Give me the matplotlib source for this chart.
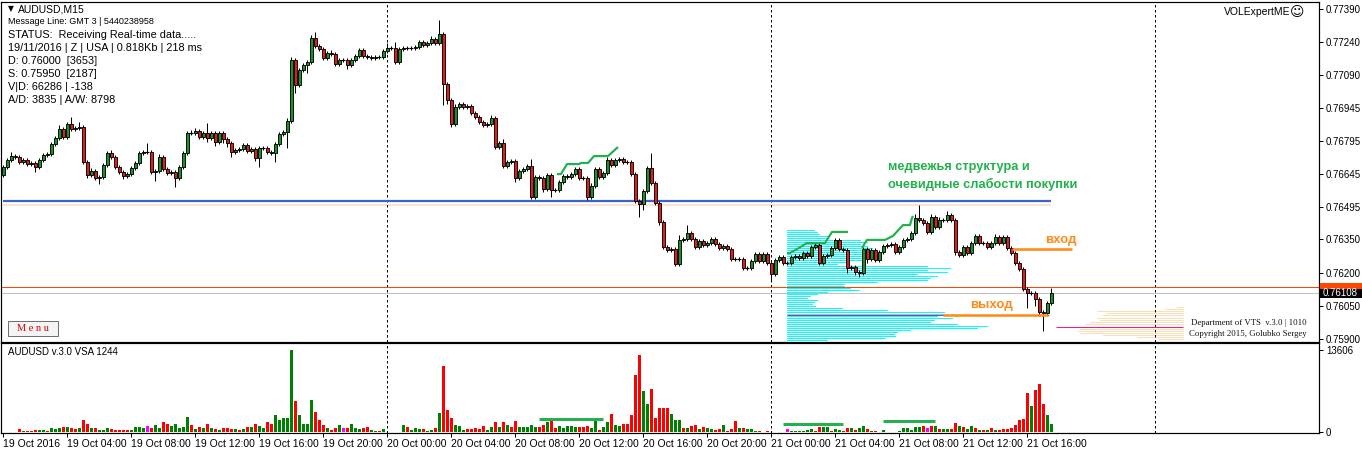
import numpy as np
import matplotlib
matplotlib.use("Agg")
import matplotlib.pyplot as plt
from matplotlib.patches import Rectangle

plt.rcParams['font.family'] = ['Liberation Sans', 'DejaVu Sans']

W, H = 1362, 454

# ---------------- DATA (prices in points: 1 point = 0.00001) ----------------
first_open = 76641
closes_pts = [
    76677, 76708, 76726, 76722, 76699, 76708, 76690, 76695, 76677, 76708,
    76731, 76735, 76781, 76808, 76848, 76812, 76871, 76848, 76853, 76857,
    76699, 76641, 76659, 76627, 76632, 76686, 76740, 76722, 76677, 76654,
    76636, 76645, 76672, 76695, 76740, 76744, 76744, 76654, 76659, 76722,
    76668, 76650, 76654, 76627, 76677, 76740, 76830, 76830, 76839, 76812,
    76830, 76808, 76830, 76790, 76830, 76803, 76785, 76744, 76753, 76758,
    76776, 76749, 76758, 76717, 76763, 76763, 76744, 76740, 76781, 76826,
    76835, 76884, 77159, 77047, 77114, 77137, 77150, 77259, 77223, 77209,
    77168, 77191, 77186, 77141, 77159, 77159, 77137, 77159, 77177, 77204,
    77177, 77173, 77168, 77173, 77173, 77200, 77214, 77214, 77150, 77209,
    77214, 77214, 77214, 77218, 77241, 77227, 77236, 77254, 77236, 77277,
    77051, 76979, 76871, 76947, 76961, 76947, 76952, 76920, 76902, 76880,
    76866, 76871, 76898, 76767, 76785, 76681, 76699, 76704, 76627, 76659,
    76668, 76681, 76541, 76632, 76627, 76578, 76641, 76573, 76573, 76609,
    76636, 76632, 76645, 76668, 76627, 76627, 76541, 76591, 76668, 76632,
    76650, 76708, 76686, 76708, 76713, 76699, 76699, 76645, 76523, 76510,
    76569, 76672, 76605, 76514, 76429, 76316, 76302, 76307, 76239, 76348,
    76352, 76379, 76352, 76316, 76343, 76325, 76334, 76352, 76330, 76311,
    76320, 76307, 76262, 76262, 76262, 76221, 76221, 76253, 76284, 76253,
    76284, 76244, 76194, 76257, 76271, 76244, 76244, 76271, 76275, 76266,
    76289, 76275, 76316, 76325, 76244, 76275, 76280, 76311, 76348, 76307,
    76302, 76221, 76226, 76203, 76199, 76307, 76262, 76302, 76257, 76293,
    76320, 76325, 76330, 76293, 76316, 76348, 76352, 76379, 76447, 76438,
    76424, 76384, 76451, 76406, 76438, 76438, 76460, 76438, 76293, 76280,
    76316, 76289, 76334, 76366, 76334, 76334, 76316, 76334, 76361, 76334,
    76361, 76311, 76289, 76244, 76217, 76127, 76109, 76109, 76082, 76023,
    76018, 76063, 76108,
]
upper_wick = [
    10, 10, 20, 10, 10, 10, 10, 10, 10, 10,
    10, 10, 10, 10, 20, 10, 10, 32, 10, 23,
    10, 10, 15, 10, 10, 10, 10, 15, 10, 10,
    10, 10, 10, 10, 10, 10, 40, 10, 10, 15,
    10, 10, 10, 10, 10, 10, 10, 15, 15, 10,
    10, 45, 10, 10, 10, 10, 10, 10, 10, 10,
    10, 10, 10, 10, 10, 10, 10, 10, 10, 10,
    10, 15, 15, 10, 10, 10, 10, 13, 27, 10,
    10, 10, 15, 10, 10, 10, 10, 10, 10, 10,
    10, 10, 10, 10, 10, 10, 23, 10, 27, 10,
    10, 10, 10, 10, 10, 10, 10, 15, 10, 63,
    10, 10, 10, 15, 10, 10, 10, 10, 10, 10,
    10, 10, 15, 10, 10, 18, 10, 10, 10, 10,
    10, 10, 32, 10, 10, 10, 10, 10, 10, 10,
    10, 10, 10, 10, 10, 10, 10, 15, 10, 10,
    10, 14, 10, 10, 10, 10, 10, 10, 10, 10,
    10, 10, 68, 10, 10, 10, 10, 10, 10, 23,
    10, 36, 10, 10, 10, 10, 10, 10, 10, 10,
    10, 10, 10, 10, 10, 10, 10, 10, 10, 10,
    10, 10, 10, 10, 10, 10, 10, 10, 10, 10,
    10, 10, 10, 10, 10, 10, 10, 10, 10, 10,
    10, 10, 10, 10, 10, 10, 10, 10, 10, 10,
    10, 10, 10, 10, 10, 10, 10, 10, 20, 59,
    10, 10, 15, 10, 15, 10, 20, 10, 10, 10,
    10, 10, 10, 10, 10, 10, 10, 10, 15, 10,
    10, 10, 10, 10, 10, 10, 10, 10, 10, 10,
    10, 10, 23,
]
lower_wick = [
    10, 10, 10, 10, 10, 10, 10, 10, 23, 10,
    10, 10, 10, 10, 10, 10, 10, 10, 10, 10,
    10, 15, 10, 10, 27, 10, 10, 10, 10, 10,
    15, 10, 10, 10, 10, 10, 10, 10, 40, 10,
    10, 10, 10, 40, 10, 10, 10, 10, 10, 10,
    10, 20, 10, 20, 10, 20, 20, 20, 10, 10,
    10, 10, 10, 15, 40, 10, 10, 10, 40, 10,
    10, 72, 10, 36, 10, 10, 36, 10, 10, 10,
    10, 10, 10, 10, 10, 10, 18, 10, 10, 10,
    10, 10, 10, 10, 10, 10, 10, 10, 10, 10,
    10, 10, 10, 10, 10, 10, 10, 10, 10, 10,
    95, 20, 14, 10, 10, 10, 10, 10, 10, 10,
    10, 10, 10, 10, 10, 10, 10, 10, 18, 10,
    10, 10, 10, 10, 10, 14, 10, 32, 10, 10,
    10, 10, 10, 10, 10, 10, 14, 10, 10, 10,
    10, 10, 10, 10, 10, 10, 10, 10, 10, 58,
    27, 10, 10, 10, 14, 10, 10, 10, 10, 10,
    10, 10, 10, 10, 10, 10, 10, 10, 10, 10,
    10, 10, 10, 10, 10, 10, 10, 10, 10, 10,
    10, 10, 27, 10, 10, 10, 10, 10, 10, 10,
    10, 10, 10, 10, 10, 10, 10, 10, 10, 10,
    10, 20, 10, 15, 20, 10, 20, 10, 10, 10,
    10, 10, 10, 10, 10, 10, 10, 10, 10, 10,
    10, 10, 10, 10, 10, 10, 10, 10, 15, 10,
    10, 10, 10, 10, 10, 10, 10, 10, 10, 10,
    10, 10, 10, 10, 10, 10, 70, 10, 30, 20,
    81, 10, 10,
]
volumes = [
    0, 0, 0, 0, 430, 160, 110, 110, 270, 270,
    270, 110, 600, 490, 600, 870, 760, 700, 430, 600,
    2060, 1250, 600, 600, 270, 270, 600, 430, 270, 270,
    270, 270, 270, 760, 760, 600, 980, 700, 1140, 650,
    1630, 1250, 920, 1410, 700, 760, 2550, 1140, 430, 760,
    600, 1250, 600, 430, 270, 600, 600, 430, 430, 270,
    540, 760, 760, 1250, 920, 600, 1630, 1250, 2870, 2060,
    2380, 2380, 13606, 5150, 2870, 1410, 1250, 5310, 3250, 1950,
    1080, 600, 380, 650, 1080, 600, 700, 1250, 600, 430,
    600, 760, 270, 160, 110, 430, 0, 0, 0, 0,
    1080, 760, 270, 600, 430, 430, 110, 270, 600, 3090,
    11000, 3580, 2380, 1080, 920, 270, 430, 430, 600, 430,
    920, 270, 760, 1630, 760, 1630, 1080, 760, 1900, 760,
    760, 760, 1080, 760, 760, 1210, 1600, 1770, 660, 1050,
    720, 1050, 1050, 880, 880, 880, 1050, 720, 1880, 390,
    880, 1600, 3040, 1210, 1050, 1380, 1380, 2870, 9380, 12800,
    6840, 4690, 7180, 2370, 3970, 4030, 3970, 3040, 2040, 2040,
    720, 720, 940, 1210, 550, 830, 660, 550, 390, 500,
    1210, 170, 550, 1880, 720, 720, 550, 500, 220, 220,
    60, 220, 0, 0, 0, 0, 500, 100, 100, 100,
    100, 280, 500, 110, 830, 830, 830, 220, 500, 390,
    220, 720, 720, 390, 720, 1050, 550, 220, 220, 60,
    390, 60, 60, 60, 220, 720, 720, 390, 880, 880,
    1050, 720, 1050, 1050, 550, 550, 550, 550, 1550, 1050,
    880, 550, 1050, 720, 390, 390, 390, 720, 390, 390,
    500, 550, 720, 1210, 2040, 2210, 6460, 4250, 7010, 7890,
    4690, 2870, 1380,
]
vol_colors = ("ggggrgrrrg" "grgggrgrrg" "rrgrgggrrr" "rrggggmrgg" "rrgggggrgr"
              "grgrgrrrgr" "grgrggrrgg" "gggrggggrr" "rgrrgmrggg" "rrggrggggg"
              "grgggrggrg" "rrrgggrrrr" "rggrgrgrrg" "ggggrrgrrg" "ggggrrrggr"
              "ggrggrrrrr" "ggrrrrrggg" "rgrrgrggrr" "grrrgrgggr" "grggggmggg"
              "gggrrggrgg" "rrgrggrgrg" "ggrrgggggg" "rmrgrggrrg" "rggrgrgrgr"
              "rrrrrrrgrr" "rgg")

time_labels = ["19 Oct 2016", "19 Oct 04:00", "19 Oct 08:00", "19 Oct 12:00",
               "19 Oct 16:00", "19 Oct 20:00", "20 Oct 00:00", "20 Oct 04:00",
               "20 Oct 08:00", "20 Oct 12:00", "20 Oct 16:00", "20 Oct 20:00",
               "21 Oct 00:00", "21 Oct 04:00", "21 Oct 08:00", "21 Oct 12:00",
               "21 Oct 16:00"]
label_bars = [0, 16, 32, 48, 64, 80, 96, 112, 128, 144, 160, 176, 192, 208, 224, 240, 256]
day_breaks = [96, 192, 288]
price_ticks = [0.77390, 0.77240, 0.77090, 0.76945, 0.76795, 0.76645,
               0.76495, 0.76350, 0.76200, 0.76050, 0.75900]

# support line & levels
support_level = 0.76525
support_shadow = 0.76505
support_span = (0, 262)
ask_level = 0.76135
bid_level = 0.76108
entry_level = 0.76307
entry_span = (252.25, 267.25)
exit_level = 0.76010
exit_span = (235, 261.25)
poc_level = 0.76010
poc_span = (196, 261.5)
poc2_level = 0.75955
poc2_span = (263.25, 295)

# green indicator step lines (bar index, price points)
step1_x = [138.5, 139.5, 141, 144, 144.5, 146.25, 147.75, 151.25, 153.75]
step1_p = [76645, 76645, 76690, 76690, 76695, 76695, 76726, 76726, 76767]
step2_x = [196, 196.75, 199, 201, 205.5, 207.25, 211.25]
step2_p = [76289, 76289, 76312, 76334, 76334, 76384, 76384]
step3_x = [214.75, 216, 220.5, 222.5, 225, 226.75, 227.25, 227.5]
step3_p = [76312, 76348, 76348, 76366, 76415, 76415, 76447, 76456]

# volume-panel green lines
vline_start = [134, 195, 220]
vline_end = [150, 210, 233]
vline_level = [2200, 1380, 1880]

# cyan volume profile (levels in points, relative volume)
profile_start = 196
profile_levels = [76393, 76384, 76375, 76366, 76357, 76348, 76339, 76330, 76321, 76312,
                  76303, 76294, 76285, 76275, 76267, 76257, 76248, 76239, 76230, 76221,
                  76212, 76203, 76194, 76185, 76176, 76167, 76158, 76149, 76140, 76131,
                  76122, 76113, 76104, 76095, 76086, 76077, 76068, 76059, 76050, 76041,
                  76032, 76023, 76014, 76005, 75996, 75987, 75978, 75969, 75960, 75951,
                  75942, 75933, 75924, 75915, 75906, 75897]
profile_vol = [27, 30, 32, 40, 40, 73, 80, 73, 80, 85,
               80, 77, 77, 77, 77, 77, 60, 50, 140, 163,
               140, 160, 130, 150, 143, 140, 90, 57, 57, 63,
               72, 40, 30, 23, 20, 30, 27, 25, 28, 55,
               100, 157, 157, 150, 165, 147, 143, 170, 200, 190,
               123, 110, 107, 108, 98, 40]
# peach profile anchored on the right
rprofile_end = 295
rprofile_levels = [76045, 76036, 76027, 76018, 76009, 75996, 75987, 75978, 75969,
                   75946, 75937, 75928, 75919, 75910, 75901]
rprofile_vol = [6, 18, 86, 76, 80, 86, 83, 93, 98, 103, 105, 103, 80, 46, 25]

info_lines = ["Message Line: GMT 3 | 5440238958",
              "STATUS:  Receiving Real-time data.....",
              "19/11/2016 | Z | USA | 0.818Kb | 218 ms",
              "D: 0.76000  [3653]",
              "S: 0.75950  [2187]",
              "V|D: 66286 | -138",
              "A/D: 3835 | A/W: 8798"]

n = len(closes_pts)
for name, arr in [("upper", upper_wick), ("lower", lower_wick), ("vol", volumes), ("col", vol_colors)]:
    if len(arr) != n:
        raise ValueError(f"{name} length {len(arr)} != {n}")

# ---------------- derived ----------------
closes = np.array(closes_pts) / 1e5
opens = np.array([first_open] + closes_pts[:-1]) / 1e5
highs = np.maximum(opens, closes) + np.array(upper_wick) / 1e5
lows = np.minimum(opens, closes) - np.array(lower_wick) / 1e5
x = np.arange(n)

def fx(px):
    return px / W

def fy(py):
    return 1 - py / H

PX = 0.72  # one pixel in points

fig = plt.figure(figsize=(W / 100, H / 100), dpi=100)
fig.patch.set_facecolor('white')

ax = fig.add_axes([fx(1), fy(342), (1319 - 1) / W, (342 - 2) / H])
ax2 = fig.add_axes([fx(1), fy(433), (1319 - 1) / W, (433 - 343) / H])

for a in (ax, ax2):
    a.set_facecolor('white')
    for s in a.spines.values():
        s.set_linewidth(PX * 1.2)
        s.set_color('black')
    a.set_xlim(-0.5, 329)

ax.set_ylim(0.758876, 0.774210)
ax2.set_ylim(-166, 14766)

# day separators
for a in (ax, ax2):
    for d in day_breaks:
        a.axvline(d, color='black', lw=PX, ls=(0, (2.5, 2.5)), zorder=2)

# cyan profile (1-px lines)
pl = np.array(profile_levels) / 1e5
ax.hlines(pl, profile_start, profile_start + np.array(profile_vol) / 4.0,
          color='#00FFFF', lw=0.7, zorder=1, antialiased=False)
rl = np.array(rprofile_levels) / 1e5
ax.hlines(rl, rprofile_end - np.array(rprofile_vol) / 4.0, rprofile_end,
          color='#FFDDB5', lw=0.7, zorder=1, antialiased=False)

# support line
ax.hlines(support_shadow, *support_span, color='#F6E5D2', lw=PX * 2, zorder=1)
ax.hlines(support_level, *support_span, color='#3A62D6', lw=PX * 2.2, zorder=2)

# bid/ask lines
ax.axhline(ask_level, color='#FF4500', lw=PX, zorder=2)
ax.axhline(bid_level, color='#C0C0C0', lw=PX, zorder=2)

# POC lines
ax.hlines(poc_level, *poc_span, color='#FF1493', lw=PX, zorder=2)
ax.hlines(poc2_level, *poc2_span, color='#FF1493', lw=PX, zorder=2)

# entry / exit
ax.hlines(entry_level, *entry_span, color='#FF8C1A', lw=PX * 2.6, zorder=4)
ax.hlines(exit_level, *exit_span, color='#FF8C1A', lw=PX * 2.6, zorder=4)

# candles
ax.vlines(x, lows, highs, color='black', lw=PX, zorder=3)
diff = closes - opens
body_mask = np.abs(diff) >= 0.000025
up = body_mask & (diff > 0)
dn = body_mask & (diff < 0)
ax.bar(x[up], diff[up], bottom=opens[up], width=0.75, color='#16932A',
       edgecolor='black', linewidth=PX * 0.9, zorder=3)
ax.bar(x[dn], diff[dn], bottom=opens[dn], width=0.75, color='#E41B1B',
       edgecolor='black', linewidth=PX * 0.9, zorder=3)
doji = ~body_mask
ax.hlines(closes[doji], x[doji] - 0.4, x[doji] + 0.4, color='black', lw=PX * 1.2, zorder=3)

# green step lines
for sx, sp in [(step1_x, step1_p), (step2_x, step2_p), (step3_x, step3_p)]:
    ax.plot(sx, np.array(sp) / 1e5, color='#22B14C', lw=PX * 2.2, zorder=5,
            solid_capstyle='butt')

# price axis
ax.yaxis.tick_right()
ax.set_yticks(price_ticks)
ax.set_yticklabels([f"{p:.5f}" for p in price_ticks])
ax.tick_params(axis='y', direction='out', length=3, width=PX, pad=2, labelsize=7)
ax.set_xticks([])

# volume panel
cmap = {'g': '#008000', 'r': '#FF0000', 'm': '#FF00FF'}
ax2.bar(x, volumes, width=0.75, color=[cmap[c] for c in vol_colors], zorder=3)
for s, e, lv in zip(vline_start, vline_end, vline_level):
    ax2.hlines(lv, s, e, color='#22B14C', lw=PX * 3, zorder=4)
ax2.yaxis.tick_right()
ax2.set_yticks([0, 13606])
ax2.set_yticklabels(["0", "13606"])
ax2.tick_params(axis='y', direction='out', length=3, width=PX, pad=2, labelsize=7)
ax2.set_xticks(label_bars)
ax2.set_xticklabels(time_labels)
ax2.tick_params(axis='x', direction='out', length=3, width=PX, pad=1, labelsize=7.5)
for lab in ax2.get_xticklabels():
    lab.set_horizontalalignment('left')

# ---------------- texts ----------------
fig.text(fx(8), fy(9), "\u25BC", fontsize=5.5, va='center', ha='left', family=['DejaVu Sans'])
fig.text(fx(18), fy(9), "AUDUSD,M15", fontsize=7.5, va='center', ha='left')
fig.text(fx(8), fy(22), info_lines[0], fontsize=6.5, va='center', ha='left')
for k, t in enumerate(info_lines[1:]):
    fig.text(fx(8), fy(35 + 13 * k), t, fontsize=7.8, va='center', ha='left')

fig.text(fx(1290), fy(12), "VOLExpertME", fontsize=7.5, va='center', ha='right')
fig.text(fx(1297), fy(12), "\u263A", fontsize=10, va='center', ha='center',
         family=['DejaVu Sans'])

fig.text(fx(888), fy(167), "медвежья структура и", fontsize=9.2, fontweight='bold',
         color='#22B14C', va='center', ha='left')
fig.text(fx(888), fy(184), "очевидные слабости покупки", fontsize=9.2, fontweight='bold',
         color='#22B14C', va='center', ha='left')
fig.text(fx(1045), fy(240), "вход", fontsize=9.5, fontweight='bold',
         color='#FF8C1A', va='center', ha='left')
fig.text(fx(970), fy(305), "выход", fontsize=9.5, fontweight='bold',
         color='#FF8C1A', va='center', ha='left')

fig.text(fx(1249), fy(323), "Department of VTS  v.3.0 | 1010", fontsize=6.3,
         family=['Liberation Serif'], va='center', ha='center', color='#111111')
fig.text(fx(1248), fy(334), "Copyright 2015, Golubko Sergey", fontsize=6.3,
         family=['Liberation Serif'], va='center', ha='center', color='#111111')

fig.text(fx(8), fy(352), "AUDUSD v.3.0 VSA 1244", fontsize=7, va='center', ha='left')

# Menu button
fig.add_artist(Rectangle((fx(8), fy(336)), (58 - 8) / W, (336 - 321) / H,
                         transform=fig.transFigure, facecolor='#F4F4F4',
                         edgecolor='#707070', lw=PX))
fig.text(fx(33), fy(328.5), "M e n u", fontsize=7.5, family=['Liberation Serif'],
         color='#E00000', va='center', ha='center')

# price boxes on the right
fig.add_artist(Rectangle((fx(1320), fy(290)), 42 / W, 7 / H, transform=fig.transFigure,
                         facecolor='#FF4500', edgecolor='none'))
fig.add_artist(Rectangle((fx(1320), fy(298)), 42 / W, 9 / H, transform=fig.transFigure,
                         facecolor='black', edgecolor='none'))
fig.text(fx(1323), fy(293), f"{bid_level:.5f}", fontsize=7, color='white',
         va='center', ha='left')

fig.savefig("out.png", dpi=100, facecolor='white')
